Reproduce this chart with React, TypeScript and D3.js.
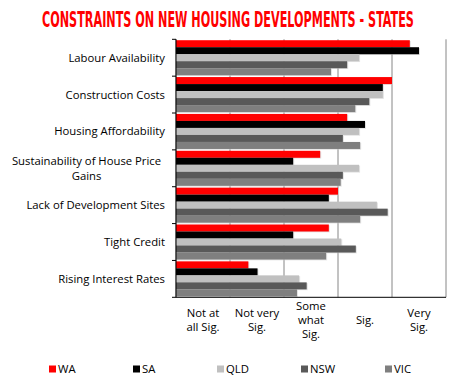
import React, { useLayoutEffect, useRef, useState } from "react";
import * as d3 from "d3";

const categories = [
  "Labour Availability",
  "Construction Costs",
  "Housing Affordability",
  "Sustainability of House Price Gains",
  "Lack of Development Sites",
  "Tight Credit",
  "Rising Interest Rates",
];

const states = ["WA", "SA", "QLD", "NSW", "VIC"];
const stateColors = ["#ff0000", "#000000", "#c0c0c0", "#595959", "#7f7f7f"];

// one array per state, same order as categories
const wa = [4.33, 4.0, 3.17, 2.67, 3.0, 2.83, 1.34];
const sa = [4.5, 3.83, 3.5, 2.17, 2.83, 2.17, 1.51];
const qld = [3.39, 3.83, 3.39, 3.39, 3.72, 3.06, 2.28];
const nsw = [3.17, 3.58, 3.09, 3.09, 3.92, 3.33, 2.42];
const vic = [2.87, 3.32, 3.41, 3.05, 3.41, 2.78, 2.24];

const tickLabels = [
  ["Not at", "all Sig."],
  ["Not very", "Sig."],
  ["Some", "what", "Sig."],
  ["Sig."],
  ["Very", "Sig."],
];

// wrapped category label lines
const labelLines: Record<string, string[]> = {
  "Sustainability of House Price Gains": ["Sustainability of House Price", "Gains"],
};

const title = "CONSTRAINTS ON NEW HOUSING DEVELOPMENTS - STATES";

const width = 458;
const height = 387;
const margin = { top: 39.3, right: 12, bottom: 90, left: 176 };
const font = "'Open Sans', 'Noto Sans', sans-serif";
const fs = 11.3;

export default function App() {
  const series = [wa, sa, qld, nsw, vic];
  const titleRef = useRef<SVGTextElement>(null);
  const [titleScale, setTitleScale] = useState(0.7);

  // squeeze the title so it spans the same width as the reference
  useLayoutEffect(() => {
    if (!titleRef.current) return;
    const w = titleRef.current.getComputedTextLength();
    if (w > 0) setTitleScale(372 / w);
  }, []);

  const x = d3
    .scaleLinear()
    .domain([0, 5])
    .range([margin.left, width - margin.right]);

  const y = d3
    .scaleBand()
    .domain(categories)
    .range([margin.top, 297.3])
    .paddingInner(0)
    .paddingOuter(0);

  const inner = d3
    .scaleBand()
    .domain(states)
    .range([0, y.bandwidth()])
    .paddingInner(0)
    .paddingOuter(0.13);

  const ticks = d3.range(0, 6);
  const plotBottom = 297.3;

  // legend positions
  const legendX = d3.scalePoint().domain(states).range([49, 385]);

  return (
    <div style={{ position: "absolute", left: 0, top: 0 }}>
      <svg width={width} height={height} style={{ display: "block", background: "#fff" }}>
        <g transform={`translate(42,26.5) scale(${titleScale},1)`}>
          <text
            ref={titleRef}
            x={0}
            y={0}
            fill="#ff0000"
            fontFamily="'Liberation Sans Narrow', 'DejaVu Sans Condensed', sans-serif"
            fontWeight="bold"
            fontSize={21}
          >
            {title}
          </text>
        </g>

        {/* gridlines */}
        {ticks.map((t) => (
          <line
            key={"g" + t}
            x1={x(t)}
            x2={x(t)}
            y1={margin.top}
            y2={plotBottom}
            stroke="#868686"
            strokeWidth={1}
          />
        ))}

        {/* bars */}
        {categories.map((c, i) => (
          <g key={c} transform={`translate(0,${y(c)})`}>
            {states.map((s, j) => {
              const v = series[j][i];
              const by = inner(s)!;
              return (
                <g key={s}>
                  <rect
                    x={x(0)}
                    y={by + 0.8}
                    width={x(v) - x(0) + 1}
                    height={inner.bandwidth()}
                    fill="#cfcfcf"
                    opacity={0.6}
                  />
                  <rect
                    x={x(0)}
                    y={by}
                    width={x(v) - x(0)}
                    height={inner.bandwidth()}
                    fill={stateColors[j]}
                  />
                </g>
              );
            })}
          </g>
        ))}

        {/* axes */}
        <line x1={x(0)} x2={x(0)} y1={margin.top} y2={plotBottom} stroke="#000" strokeWidth={1} />
        <line x1={x(0)} x2={x(5)} y1={plotBottom} y2={plotBottom} stroke="#000" strokeWidth={1} />
        {d3.range(categories.length + 1).map((k) => {
          const ty = margin.top + k * y.step();
          return (
            <line key={"t" + k} x1={x(0) - 4} x2={x(0)} y1={ty} y2={ty} stroke="#000" strokeWidth={1} />
          );
        })}

        {/* category labels */}
        {categories.map((c) => {
          const lines = labelLines[c] || [c];
          const cy = y(c)! + y.bandwidth() / 2;
          const lh = 15;
          const w = lines.length > 1 ? 157 : 0;
          return (
            <text
              key={"l" + c}
              fontFamily={font}
              fontSize={fs}
              fill="#000"
              textAnchor={lines.length > 1 ? "middle" : "end"}
            >
              {lines.map((ln, k) => (
                <tspan
                  key={k}
                  x={lines.length > 1 ? 165 - w / 2 : 165}
                  y={cy + (k - (lines.length - 1) / 2) * lh}
                  dy="0.35em"
                >
                  {ln}
                </tspan>
              ))}
            </text>
          );
        })}

        {/* x tick labels, centred between gridlines */}
        {tickLabels.map((lines, i) => (
          <text key={"x" + i} fontFamily={font} fontSize={fs} fill="#000" textAnchor="middle">
            {lines.map((ln, k) => (
              <tspan
                key={k}
                x={x(i + 0.5)}
                y={320 + (k - (lines.length - 1) / 2) * 14}
                dy="0.35em"
              >
                {ln}
              </tspan>
            ))}
          </text>
        ))}

        {/* legend */}
        {states.map((s, j) => (
          <g key={"lg" + s} transform={`translate(${legendX(s)},369)`}>
            <rect x={0} y={-3.5} width={7} height={7} fill={stateColors[j]} />
            <text x={9} y={0} dy="0.35em" fontFamily={font} fontSize={fs} fill="#000">
              {s}
            </text>
          </g>
        ))}
      </svg>
    </div>
  );
}
